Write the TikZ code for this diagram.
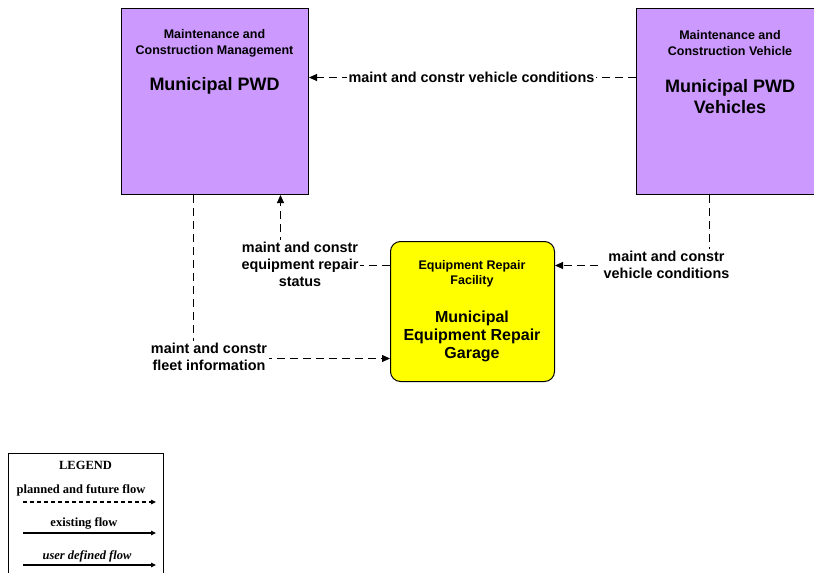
\documentclass[tikz,border=0pt]{standalone}
\usepackage{fontspec}
\setmainfont{Liberation Serif}
\setsansfont{Liberation Sans}
\usetikzlibrary{arrows.meta,calc}
\definecolor{purp}{HTML}{CC99FF}
\definecolor{yel}{HTML}{FFFF00}
\begin{document}
\begin{tikzpicture}[x=1pt,y=-1pt,
  sysbox/.style={draw=black, line width=1pt, fill=purp, minimum width=187pt, minimum height=186pt, inner sep=0pt, anchor=north west},
  termbox/.style={draw=black, line width=1pt, fill=yel, rounded corners=10pt, minimum width=164pt, minimum height=140pt, inner sep=0pt, anchor=north west},
  roletext/.style={font=\sffamily\bfseries\fontsize{12.5}{16}\selectfont, align=center, inner sep=0pt},
  nametext/.style={font=\sffamily\bfseries\fontsize{18}{21}\selectfont, align=center, inner sep=0pt},
  ynametext/.style={font=\sffamily\bfseries\fontsize{16}{18}\selectfont, align=center, inner sep=0pt},
  flowlabel/.style={font=\sffamily\bfseries\fontsize{14.4}{17}\selectfont, align=center, fill=white, inner sep=1.5pt},
  flow/.style={line width=1pt, dash pattern=on 8pt off 5pt, -{Triangle[length=8pt,width=7pt]}},
  legtext/.style={font=\rmfamily\bfseries\fontsize{12.5}{14}\selectfont, inner sep=0pt},
  legarrow/.style={line width=1.2pt, -{Triangle[length=5pt,width=4.5pt]}}
]
\useasboundingbox (0,0) rectangle (814,573);
\clip (0,0) rectangle (814,573);

% boxes
\node[sysbox] (pwd) at (121,8) {};
\node[sysbox] (veh) at (636,8) {};
\node[termbox] (gar) at (390,241) {};

% box texts
\node[roletext] (pwdrole) at (214.5,43) {Maintenance and\\Construction Management};
\node[nametext] (pwdname) at (214.5,86) {Municipal PWD};
\node[roletext] (vehrole) at (730,43) {Maintenance and\\Construction Vehicle};
\node[nametext] (vehname) at (730,96.5) {Municipal PWD\\Vehicles};
\node[roletext, font=\sffamily\bfseries\fontsize{12.5}{15}\selectfont] (garrole) at (472,273.5) {Equipment Repair\\Facility};
\node[ynametext] (garname) at (472,336) {Municipal\\Equipment Repair\\Garage};

% connectors
\draw[flow] ([yshift=24pt]veh.west) -- ([yshift=24pt]pwd.east);
\node[flowlabel] (lab1) at (471.5,77) {maint and constr vehicle conditions};

\draw[flow] ([xshift=-21pt]veh.south) |- ([yshift=46pt]gar.east);
\node[flowlabel] (lab2) at (666.5,264.5) {maint and constr\\vehicle conditions};

\draw[flow] ([yshift=46pt]gar.west) -| ([xshift=65.5pt]pwd.south);
\node[flowlabel] (lab3) at (300,264) {maint and constr\\equipment repair\\status};

\draw[flow] ([xshift=-21.5pt]pwd.south) |- ([yshift=-47pt]gar.west);
\node[flowlabel] (lab4) at (209,356.5) {maint and constr\\fleet information};

% legend
\draw[line width=1pt] (8,580) -- (8,453) -- (163,453) -- (163,580);
\node[legtext] (legtitle) at (85.5,465) {LEGEND};
\node[legtext] (leg1) at (81,490) {planned and future flow};
\coordinate (l1a) at (23,502);
\coordinate (l1b) at (156,502);
\draw[legarrow, dash pattern=on 4pt off 3pt] (l1a) -- (l1b);
\node[legtext] (leg2) at (84,523) {existing flow};
\coordinate (l2a) at (23,533);
\coordinate (l2b) at (156,533);
\draw[legarrow] (l2a) -- (l2b);
\node[legtext, font=\rmfamily\bfseries\itshape\fontsize{12.5}{14}\selectfont] (leg3) at (87,556) {user defined flow};
\coordinate (l3a) at (23,565);
\coordinate (l3b) at (156,565);
\draw[legarrow] (l3a) -- (l3b);
\end{tikzpicture}
\end{document}
